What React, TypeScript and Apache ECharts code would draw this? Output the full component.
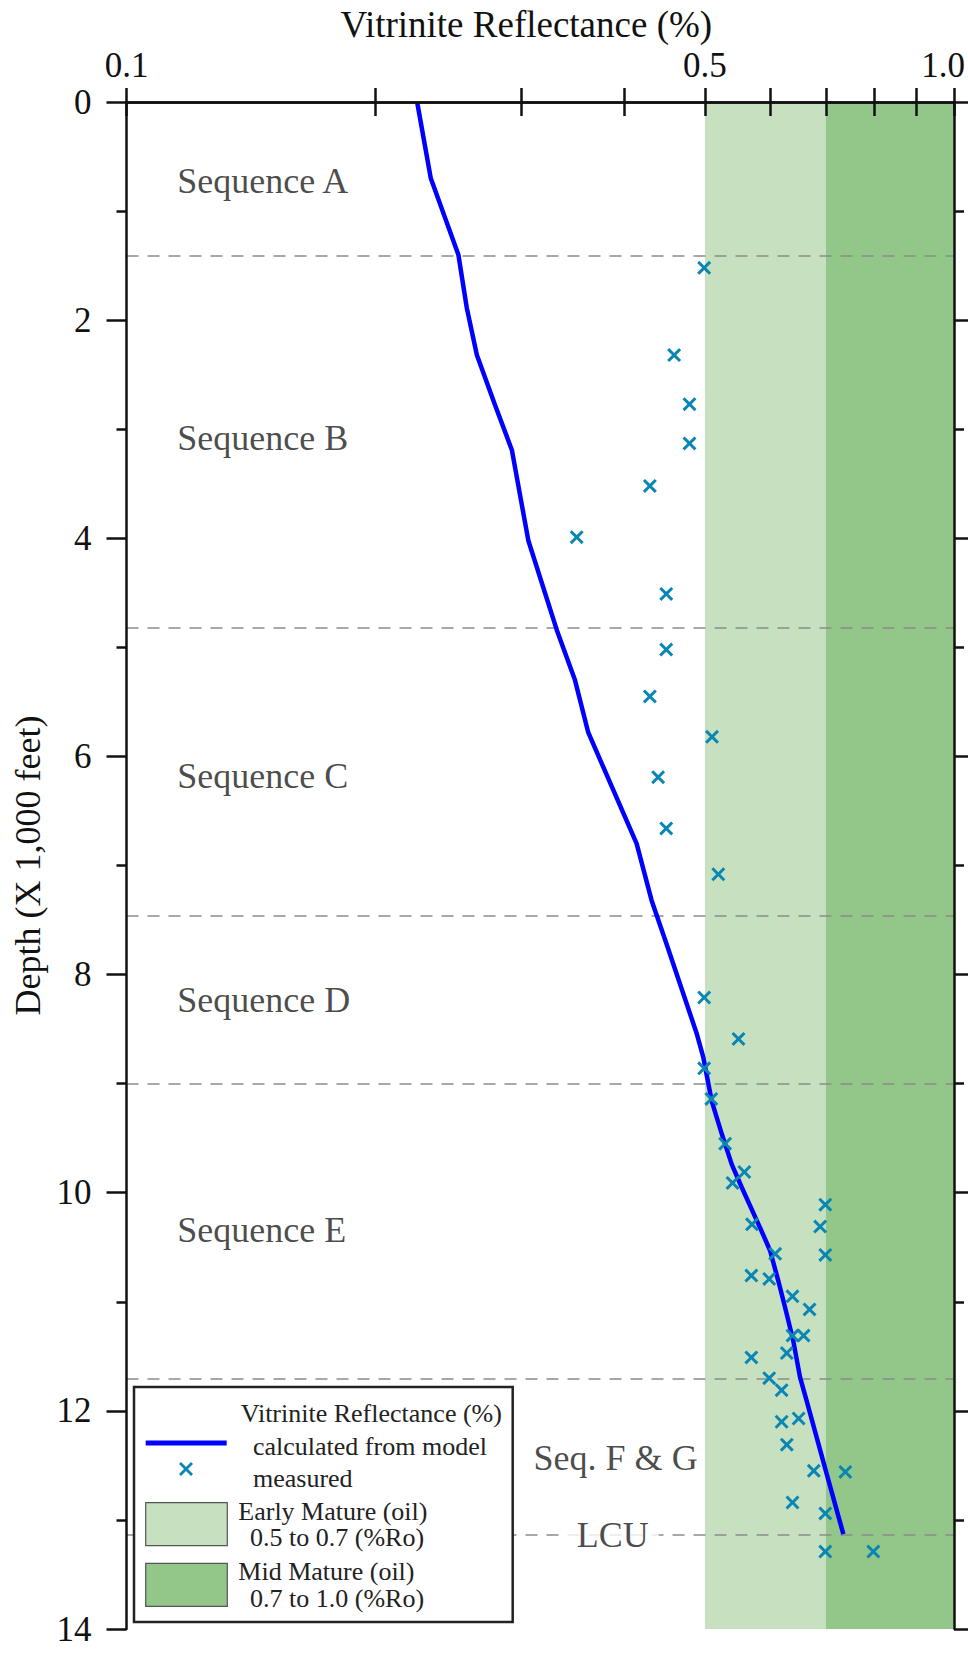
import React, { useEffect, useRef } from 'react';
import * as echarts from 'echarts';

// Vitrinite reflectance axis (log scale)
const RO_TICKS = [0.1, 0.2, 0.3, 0.4, 0.5, 0.6, 0.7, 0.8, 0.9, 1.0];
const RO_LABELS = [0.1, 0.5, 1.0];
const RO_MIN = 0.1;
const RO_MAX = 1.0;

// Depth axis, thousands of feet
const DEPTH_MIN = 0;
const DEPTH_MAX = 14;
const DEPTH_STEP = 2;

// Modelled reflectance profile
const MODEL_DEPTH = [0, 0.7, 1.4, 1.89, 2.32, 2.78, 3.19, 4.02, 4.84, 5.3, 5.78, 6.8, 7.32, 7.72, 8.54, 8.76, 9.16, 9.46, 9.74, 9.95, 10.32, 10.53, 10.81, 11.05, 11.36, 11.69, 11.91, 12.58, 13.13];
const MODEL_RO = [0.2245, 0.2332, 0.2518, 0.2578, 0.2651, 0.2789, 0.2922, 0.3059, 0.3311, 0.3483, 0.3614, 0.4135, 0.4311, 0.4494, 0.4887, 0.4978, 0.5096, 0.524, 0.5388, 0.5539, 0.5829, 0.5994, 0.6134, 0.6249, 0.6395, 0.6515, 0.6638, 0.7018, 0.735];

// Measured samples
const MEASURED_DEPTH = [1.52, 2.32, 2.77, 3.13, 3.52, 3.99, 4.51, 5.02, 5.45, 5.82, 6.19, 6.66, 7.08, 8.21, 8.59, 8.86, 9.14, 9.55, 9.81, 9.91, 10.11, 10.29, 10.31, 10.56, 10.57, 10.76, 10.79, 10.95, 11.07, 11.31, 11.31, 11.47, 11.51, 11.7, 11.81, 12.07, 12.1, 12.31, 12.55, 12.56, 12.84, 12.94, 13.29, 13.29];
const MEASURED_RO = [0.499, 0.459, 0.479, 0.479, 0.429, 0.35, 0.449, 0.449, 0.429, 0.51, 0.439, 0.449, 0.519, 0.499, 0.549, 0.499, 0.509, 0.529, 0.558, 0.54, 0.699, 0.57, 0.689, 0.608, 0.699, 0.569, 0.598, 0.638, 0.669, 0.638, 0.658, 0.628, 0.569, 0.598, 0.619, 0.649, 0.619, 0.628, 0.677, 0.739, 0.638, 0.699, 0.699, 0.799];

// Maturity windows
const ZONE_NAMES = ['Early Mature (oil)', 'Mid Mature (oil)'];
const ZONE_RANGES = ['0.5 to 0.7 (%Ro)', '0.7 to 1.0 (%Ro)'];
const ZONE_FROM = [0.5, 0.7];
const ZONE_TO = [0.7, 1.0];

// Sequence boundaries and names
const BOUNDARY_DEPTHS = [1.41, 4.82, 7.46, 9.0, 11.71, 13.14];
const SEQ_NAMES = ['Sequence A', 'Sequence B', 'Sequence C', 'Sequence D', 'Sequence E', 'Seq. F & G'];
const SEQ_RO = [0.115, 0.115, 0.115, 0.115, 0.115, 0.31];
const SEQ_DEPTH = [0.72, 3.08, 6.18, 8.23, 10.34, 12.43];
const UNCONFORMITY_NAME = 'LCU';
const UNCONFORMITY_RO = 0.387;
const UNCONFORMITY_DEPTH = 13.14;

const FONT = '"Liberation Serif", "Times New Roman", Times, serif';
const INK = '#111111';
const ZONE_COLORS = ['#c6e0c0', '#93c78a'];
const MODEL_COLOR = '#0000ff';
const SAMPLE_COLOR = '#0a86b4';
const CROSS = 'path://M1.8,0L6,4.2L10.2,0L12,1.8L7.8,6L12,10.2L10.2,12L6,7.8L1.8,12L0,10.2L4.2,6L0,1.8Z';

export default function App() {
  const ref = useRef<HTMLDivElement>(null);

  useEffect(() => {
    document.body.style.margin = '0';
    if (!ref.current) return;
    const chart = echarts.init(ref.current, null, { renderer: 'svg' });

    const axisLine = { show: true, lineStyle: { color: INK, width: 2.5 } };
    const tickStyle = { color: INK, width: 2.5 };

    const xCommon = {
      type: 'log',
      logBase: 10,
      min: RO_MIN,
      max: RO_MAX,
      z: 10,
      axisLine,
      splitLine: { show: false },
      axisTick: { show: true, inside: false, length: 14, lineStyle: tickStyle, customValues: RO_TICKS },
    };

    const yCommon = {
      type: 'value',
      min: DEPTH_MIN,
      max: DEPTH_MAX,
      interval: DEPTH_STEP,
      inverse: true,
      z: 10,
      axisLine,
      splitLine: { show: false },
      axisTick: { show: true, inside: false, length: 20, lineStyle: tickStyle },
      minorTick: { show: true, splitNumber: 2, length: 10, lineStyle: tickStyle },
    };

    const zoneAreas = ZONE_FROM.map((from, i) => [
      { xAxis: from, yAxis: DEPTH_MIN, itemStyle: { color: ZONE_COLORS[i] } },
      { xAxis: ZONE_TO[i], yAxis: DEPTH_MAX },
    ]);

    const textPlain = { fontFamily: FONT, color: INK, fontWeight: 'normal' };
    const legendText = (text: string, x: number, y: number) => ({
      type: 'text',
      z: 100,
      x,
      y,
      style: { text, fontFamily: FONT, fontSize: 26, fill: '#222', verticalAlign: 'middle', align: 'left' },
    });

    chart.setOption({
      animation: false,
      textStyle: { fontFamily: FONT },
      grid: { left: 126.5, right: 14, top: 102, bottom: 24, containLabel: false, outerBoundsMode: 'none' },
      xAxis: [
        {
          ...xCommon,
          position: 'top',
          name: 'Vitrinite Reflectance (%)',
          nameLocation: 'middle',
          nameGap: 59,
          nameTextStyle: { ...textPlain, fontSize: 37, padding: [0, 28, 0, 0] },
          axisLabel: {
            show: true,
            margin: 19,
            fontSize: 35,
            ...textPlain,
            hideOverlap: false,
            customValues: RO_LABELS,
            // the last label sits at the page edge, so it is nudged inwards
            formatter: (v: number) => (v >= RO_MAX ? `{edge|${v.toFixed(1)}}` : v.toFixed(1)),
            rich: {
              edge: { fontFamily: FONT, fontSize: 35, color: INK, padding: [0, 22, 0, 0] },
            },
          },
        },
        {
          ...xCommon,
          position: 'bottom',
          axisLabel: { show: false },
        },
      ],
      yAxis: [
        {
          ...yCommon,
          position: 'left',
          name: 'Depth (X 1,000 feet)',
          nameLocation: 'middle',
          nameGap: 79,
          nameTextStyle: { ...textPlain, fontSize: 36 },
          axisLabel: { show: true, margin: 35, fontSize: 35, ...textPlain },
        },
        {
          ...yCommon,
          position: 'right',
          axisLabel: { show: false },
        },
      ],
      series: [
        {
          name: 'calculated from model',
          type: 'line',
          z: 2,
          xAxisIndex: 0,
          yAxisIndex: 0,
          symbol: 'none',
          lineStyle: { color: MODEL_COLOR, width: 4.5 },
          data: MODEL_DEPTH.map((d, i) => [MODEL_RO[i], d]),
          markArea: { silent: true, z: 1, data: zoneAreas },
          markLine: {
            silent: true,
            z: 1.5,
            symbol: ['none', 'none'],
            label: { show: false },
            lineStyle: { color: '#8c8c8c', width: 1.6, type: [12, 9] },
            data: BOUNDARY_DEPTHS.map((d) => ({ yAxis: d })),
          },
        },
        {
          name: 'measured',
          type: 'scatter',
          z: 3,
          xAxisIndex: 0,
          yAxisIndex: 0,
          symbol: CROSS,
          symbolSize: 14,
          itemStyle: { color: SAMPLE_COLOR, opacity: 1 },
          data: MEASURED_DEPTH.map((d, i) => [MEASURED_RO[i], d]),
        },
        {
          name: 'sequences',
          type: 'scatter',
          z: 10,
          silent: true,
          xAxisIndex: 0,
          yAxisIndex: 0,
          symbolSize: 1,
          itemStyle: { color: 'transparent' },
          label: {
            show: true,
            position: 'right',
            distance: 0,
            align: 'left',
            verticalAlign: 'middle',
            fontSize: 36,
            ...textPlain,
            color: '#1c1c1c',
            formatter: (p: any) => p.data[2],
          },
          data: SEQ_NAMES.map((n, i) => [SEQ_RO[i], SEQ_DEPTH[i], n]),
        },
        {
          name: 'unconformity',
          type: 'scatter',
          z: 10,
          silent: true,
          xAxisIndex: 0,
          yAxisIndex: 0,
          symbolSize: 1,
          itemStyle: { color: 'transparent' },
          label: {
            show: true,
            position: 'inside',
            align: 'center',
            verticalAlign: 'middle',
            fontSize: 36,
            ...textPlain,
            color: '#1c1c1c',
            backgroundColor: '#ffffff',
            padding: [0, 10],
            formatter: (p: any) => p.data[2],
          },
          data: [[UNCONFORMITY_RO, UNCONFORMITY_DEPTH, UNCONFORMITY_NAME]],
        },
      ],
      graphic: [
        {
          type: 'rect',
          z: 100,
          shape: { x: 134, y: 1387, width: 378.7, height: 235 },
          style: { fill: '#ffffff', stroke: '#222', lineWidth: 2.5 },
        },
        legendText('Vitrinite Reflectance (%)', 240.7, 1413),
        {
          type: 'line',
          z: 100,
          shape: { x1: 145.7, y1: 1443, x2: 226.7, y2: 1443 },
          style: { stroke: MODEL_COLOR, lineWidth: 5 },
        },
        legendText('calculated from model', 253, 1446),
        {
          type: 'line',
          z: 100,
          shape: { x1: 180, y1: 1463, x2: 192, y2: 1475 },
          style: { stroke: SAMPLE_COLOR, lineWidth: 2.8 },
        },
        {
          type: 'line',
          z: 100,
          shape: { x1: 192, y1: 1463, x2: 180, y2: 1475 },
          style: { stroke: SAMPLE_COLOR, lineWidth: 2.8 },
        },
        legendText('measured', 253, 1478),
        ...ZONE_NAMES.flatMap((name, i) => {
          const top = 1502.7 + i * 60.6;
          return [
            {
              type: 'rect',
              z: 100,
              shape: { x: 145.7, y: top, width: 81.6, height: 43 },
              style: { fill: ZONE_COLORS[i], stroke: '#555', lineWidth: 1.2 },
            },
            legendText(name, 238.3, top + 8.5),
            legendText(ZONE_RANGES[i], 250, top + 35),
          ];
        }),
      ],
    });

    return () => chart.dispose();
  }, []);

  return <div ref={ref} style={{ width: 968, height: 1653 }} />;
}
